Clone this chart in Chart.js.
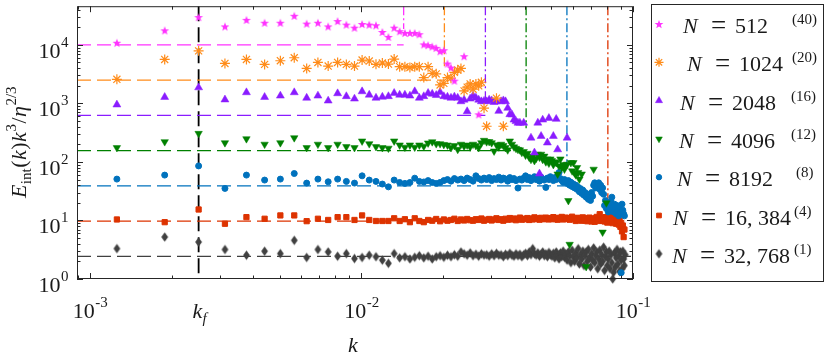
<!DOCTYPE html>
<html>
<head>
<meta charset="utf-8">
<script src="https://cdn.jsdelivr.net/npm/chart.js@4.4.1/dist/chart.umd.min.js"></script>
<style>
  html, body { margin: 0; padding: 0; background: #fff; }
</style>
</head>
<body>
<canvas id="spectrumChart" width="831" height="358"></canvas>
<script>
// mode spacing and forcing wavenumber
const dk = 2 * Math.PI / 10000;
const kf = 4 * dk;

// legend text
const seriesN = ["512", "1024", "2048", "4096", "8192", "16, 384", "32, 768"];
const ensembleSize = ["(40)", "(20)", "(16)", "(12)", "(8)", "(4)", "(1)"];

// compensated plateau levels, cutoff wavenumbers, where the cutoff lines stop
const plateau = [10000, 2500, 625, 156.25, 39.06, 9.77, 2.44];
const kCut = [0.0143, 0.0202, 0.0286, 0.0404, 0.0571, 0.0808];
const cutBottom = [18700, 3920, 1080, 377, 85.5, 14.8];

// E_int(k) k^3 / eta^(2/3), one value per mode n = 2, 3, 4, ...
const e512 = [
  10900, 17700, 29800, 20700, 26800, 23900, 23900, 31400, 23100, 23900,
  20700, 25500, 22200, 19700, 22700, 22200, 21600, 16600, 13700, 19700,
  17100, 16000, 16000, 16000, 15200, 10200, 9900, 9400, 8900, 7800,
  8100, 4800, 4100, 2450, null, null, 6400, null, null, null,
  null, 650
];
const e1024 = [
  2580, 5640, 7910, 4820, 5640, 4640, 5360, 6030, 3960, 5010,
  4350, 5010, 4640, 4350, 5500, 5300, 4650, 4900, 4700, 5720,
  4240, 4240, 4100, 4240, 4240, 2760, 4240, 3260, 3200, 2070,
  2200, 2760, 2700, 3400, 3720, 3960, 1640, 1900, 2150, 1750,
  2150, 2000, 2300, 830, 407, null, null, null, 1230, null,
  null, 407
];
const e2048 = [
  950, 1280, 1870, 1160, 1540, 1280, 1350, 1540, 1240, 1350,
  1110, 1480, 1320, 1200, 1600, 1400, 1240, 1290, 1320, 1500,
  1400, 1400, 1350, 1600, 1240, 1320, 1500, 1450, 1380, 1560,
  1320, 1290, 1240, 1300, 1240, 1080, 1150, 730, 1200, 1350,
  1250, 1150, 1080, 1100, 1080, 1150, 1120, 1050, 1080, 740,
  1080, 1120, 1080, 834, 650, 643, 525, 495, 465, 465,
  null, 465, null, null, null, 258, null, 144, null, 465,
  63, 276, 525, null, null, 213, 560, null, null, 276,
  null, 540, 163, null, null, null, null, null, null, 258
];
const e4096 = [
  175, 221, 306, 212, 248, 200, 212, 258, 175, 200,
  175, 200, 182, 175, 227, 204, 182, 175, 171, 227,
  194, 178, 194, 178, 194, 185, 210, 220, 204, 204,
  198, 194, 175, 190, 163, 200, 185, 194, 180, 200,
  190, 175, 212, 233, 220, 222, 212, 153, 195, 180,
  200, 190, 175, 160, 227, 200, 180, 170, 163, 160,
  145, 150, 130, 140, 120, 110, 125, 105, 115, 135,
  120, 135, 110, 125, 100, 112, 95, 112, 105, 90,
  100, 97, 62, 85, 112, 80, 90, 75, 85, 91,
  21.8, 3.9, 97, 70, 97, 65, 60, 80, 65.7, 50.7,
  null, 62, null, null, null, 1.62, null, null, null, null,
  null, null, 74.8, null, null, null, null, null, null, null,
  null, 6.3, null, null, null, 19.9
];
const e8192 = [
  50.9, 59.6, 85.5, 35.3, 59.6, 49, 50.9, 63.4, 43.5, 50.9,
  45.8, 50.9, 46.5, 43.5, 57.9, 49, 46.5, 41.9, 37.5, 49,
  44.6, 43, 44.6, 52.8, 46.5, 45.5, 48, 44.6, 43, 44.6,
  48, 50, 47, 52, 49, 51, 48, 53, 50, 47,
  57.9, 52, 49, 53, 50, 54, 48, 52, 50, 55,
  49, 53, 51, 47, 54, 50, 52, 48, 35.8, 51,
  49, 53, 57.9, 50, 54, 48, 52, 56, 50, 53,
  47, 55, 51, 49, 36.7, 53, 50, 56, 52, 48,
  54, 50, 57, 66, 52, 48, 45, 50, 46, 43,
  48, 40, 45, 38, 42, 36, 40, 34, 37, 31,
  35, 29, 33, 27, 30, 25, 28, 23, 26, 22,
  30, 26, 40, 44, 36, 42, 38, 44, 34, 40,
  30, 36, 28, 18, 22, 16, 20, 14, 17, 15,
  21, 25, 17, 14, 19, 16, 13, 18, 15, 12,
  17, 14, 1.28, 19, 15, 13, 12
];
const e16384 = [
  10.4, 9.35, 15.4, 8.79, 11.4, 10.7, 12.2, 12.2, 9.73, 10.7,
  10.2, 11.4, 11.4, 10.2, 12.2, 10.2, 9.8, 9.8, 9.8, 10.9,
  9.8, 10.5, 9.35, 10.9, 9.8, 9.35, 10.2, 9.9, 10.6, 9.7,
  10.4, 9.9, 10.2, 10.7, 9.8, 10.4, 10.0, 10.6, 10.1, 9.9,
  10.5, 10.2, 10.8, 9.9, 10.3, 10.6, 10.0, 10.4, 10.9, 10.2,
  10.5, 9.9, 10.7, 10.3, 11.0, 10.4, 10.8, 10.1, 10.6, 11.2,
  10.3, 10.7, 10.5, 11.0, 10.2, 10.8, 10.4, 11.3, 10.6, 10.9,
  10.3, 11.1, 10.7, 10.5, 11.2, 10.8, 10.4, 11.0, 10.6, 11.4,
  10.5, 10.9, 10.3, 11.1, 10.7, 11.5, 10.4, 10.9, 11.2, 10.6,
  11.0, 10.3, 10.8, 11.6, 10.5, 10.9, 9.8, 10.7, 11.1, 10.2,
  10.8, 9.9, 11.3, 10.4, 10.0, 10.9, 9.7, 10.6, 11.2, 10.1,
  9.6, 10.8, 10.3, 9.5, 10.9, 11.5, 10.2, 9.8, 12.8, 10.6,
  9.9, 11.0, 10.3, 9.6, 11.4, 10.5, 9.2, 10.8, 10.1, 11.8,
  9.5, 10.4, 9.0, 10.9, 9.8, 11.1, 8.8, 10.2, 9.4, 8.5,
  10.0, 7.8, 9.1, 6.5, 8.2, 5.2, 7.0
];
const e32768 = [
  3.31, 5.21, 4.28, 3.19, 2.55, 2.98, 2.72, 4.58, 2.33, 3.19,
  2.9, 2.45, 2.72, 2.24, 2.33, 2.55, 2.4, 2.1, 1.85, 2.72,
  2.3, 2.4, 2.2, 2.35, 2.5, 2.3, 2.45, 2.2, 2.4, 2.5,
  2.35, 2.55, 2.4, 2.6, 2.45, 2.9, 2.7, 2.55, 2.8, 2.5,
  2.65, 2.45, 2.7, 2.55, 2.6, 2.45, 2.7, 2.5, 2.75, 2.55,
  2.6, 2.4, 2.65, 2.5, 2.75, 2.55, 2.45, 2.7, 2.5, 2.65,
  2.4, 2.6, 2.75, 2.5, 2.9, 2.6, 3.3, 2.7, 2.55, 2.8,
  2.45, 2.65, 2.9, 2.5, 2.7, 2.4, 2.85, 2.6, 2.45, 2.75,
  2.3, 2.9, 2.55, 2.2, 2.8, 2.4, 3.0, 2.35, 2.7, 2.1,
  2.9, 2.5, 1.9, 3.1, 2.4, 2.0, 2.8, 2.3, 3.3, 1.8,
  2.6, 2.2, 3.0, 1.7, 2.5, 2.9, 2.0, 3.2, 2.3, 1.6,
  2.7, 2.1, 3.4, 1.9, 2.5, 2.9, 1.5, 2.2, 3.1, 1.8,
  2.6, 2.0, 3.5, 1.4, 2.4, 2.9, 1.7, 2.2, 3.0, 1.5,
  2.6, 1.9, 1.0, 1.3, 2.8, 1.6, 2.3, 3.2, 1.8, 2.5,
  1.35, 2.9, 2.1, 1.5, 3.0, 2.2, 1.7, 2.6
];

const spectra = [e512, e1024, e2048, e4096, e8192, e16384, e32768];
const colors = ["#ff33ff", "#ff8c1a", "#8a1cff", "#008000", "#0072bd", "#dd3300", "#404040"];

// axis ranges and labelled ticks
const kMin = 8.96e-4, kMax = 0.1;
const yMin = 1, yMax = 4.58e4;
const xTickValues = [1e-3, 1e-2, 1e-1];
const xTickExp = ["-3", "-2", "-1"];
const yTickValues = [1, 10, 100, 1000, 10000];
const yTickExp = ["0", "1", "2", "3", "4"];

const serif = '"Liberation Serif", "DejaVu Serif", serif';

// marker shapes chart.js does not have
function starMarker(color, R) {
  const s = Math.ceil(2 * R + 2);
  const c = document.createElement("canvas");
  c.width = s; c.height = s;
  const g = c.getContext("2d");
  g.fillStyle = color;
  g.beginPath();
  for (let i = 0; i < 10; i++) {
    const r = i % 2 ? R * 0.42 : R;
    const a = -Math.PI / 2 + i * Math.PI / 5;
    g.lineTo(s / 2 + r * Math.cos(a), s / 2 + 0.5 + r * Math.sin(a));
  }
  g.closePath();
  g.fill();
  return c;
}

function diamondMarker(color, hw, hh) {
  const c = document.createElement("canvas");
  c.width = Math.ceil(2 * hw + 2); c.height = Math.ceil(2 * hh + 2);
  const g = c.getContext("2d");
  const cx = c.width / 2, cy = c.height / 2;
  g.fillStyle = color;
  g.beginPath();
  g.moveTo(cx, cy - hh); g.lineTo(cx + hw, cy); g.lineTo(cx, cy + hh); g.lineTo(cx - hw, cy);
  g.closePath();
  g.fill();
  return c;
}

const markers = [
  { pointStyle: starMarker(colors[0], 4.6), radius: 5, rotation: 0, borderWidth: 0 },
  { pointStyle: "star", radius: 5, rotation: 0, borderWidth: 1.2 },
  { pointStyle: "triangle", radius: 4.6, rotation: 0, borderWidth: 0.5 },
  { pointStyle: "triangle", radius: 4.3, rotation: 180, borderWidth: 0.5 },
  { pointStyle: "circle", radius: 3, rotation: 0, borderWidth: 1 },
  { pointStyle: "rect", radius: 3.7, rotation: 0, borderWidth: 1 },
  { pointStyle: diamondMarker(colors[6], 3.4, 4.7), radius: 5, rotation: 0, borderWidth: 0 }
];

const datasets = [];

spectra.forEach((vals, i) => {
  datasets.push({
    data: vals.map((v, j) => ({ x: (j + 2) * dk, y: v })),
    backgroundColor: colors[i],
    borderColor: colors[i],
    pointStyle: markers[i].pointStyle,
    pointRadius: markers[i].radius,
    pointRotation: markers[i].rotation,
    pointBorderWidth: markers[i].borderWidth,
    showLine: false,
    clip: false,
    order: 0
  });
});

// dashed plateau lines and dash-dot cutoff lines
plateau.forEach((lvl, i) => {
  const kEnd = i < kCut.length ? kCut[i] : kMax;
  datasets.push({
    data: [{ x: kMin, y: lvl }, { x: kEnd, y: lvl }],
    borderColor: colors[i],
    borderWidth: 1.3,
    borderDash: [14, 6],
    pointRadius: 0,
    showLine: true,
    order: 1
  });
});
kCut.forEach((kc, i) => {
  datasets.push({
    data: [{ x: kc, y: yMax }, { x: kc, y: cutBottom[i] }],
    borderColor: colors[i],
    borderWidth: 1.3,
    borderDash: [9, 3, 2, 3],
    pointRadius: 0,
    showLine: true,
    order: 1
  });
});
// forcing scale
datasets.push({
  data: [{ x: kf, y: yMax }, { x: kf, y: yMin }],
  borderColor: "#000000",
  borderWidth: 1.8,
  borderDash: [15, 6],
  pointRadius: 0,
  showLine: true,
  order: 1
});

function put(ctx, s, x, y, size, italic) {
  ctx.font = (italic ? "italic " : "") + size + "px " + serif;
  ctx.fillText(s, x, y);
  return ctx.measureText(s).width;
}

function width(ctx, s, size, italic) {
  ctx.font = (italic ? "italic " : "") + size + "px " + serif;
  return ctx.measureText(s).width;
}

// "10" with a raised exponent
function powerLabel(ctx, exp, x, y, align) {
  const wb = width(ctx, "10", 22), we = width(ctx, exp, 15);
  const x0 = align === "center" ? x - (wb + we) / 2 : x - wb - we;
  put(ctx, "10", x0, y, 22);
  put(ctx, exp, x0 + wb + 0.5, y - 11, 15);
}

const axesPlugin = {
  id: "matlabAxes",
  afterDraw(chart) {
    const ctx = chart.ctx;
    const { left, right, top, bottom } = chart.chartArea;
    const xs = chart.scales.x, ys = chart.scales.y;
    ctx.save();
    ctx.strokeStyle = "#262626";
    ctx.fillStyle = "#262626";
    ctx.lineWidth = 1;
    ctx.setLineDash([]);

    // inward ticks on all four sides
    ctx.beginPath();
    for (let e = -4; e <= -1; e++) {
      for (let m = 1; m <= 9; m++) {
        const v = m * Math.pow(10, e);
        if (v < kMin || v > kMax * 1.0001) continue;
        const px = Math.round(xs.getPixelForValue(v)) + 0.5;
        const len = m === 1 ? 6 : 3.5;
        ctx.moveTo(px, bottom); ctx.lineTo(px, bottom - len);
        ctx.moveTo(px, top); ctx.lineTo(px, top + len);
      }
    }
    for (let e = 0; e <= 4; e++) {
      for (let m = 1; m <= 9; m++) {
        const v = m * Math.pow(10, e);
        if (v < yMin || v > yMax) continue;
        const py = Math.round(ys.getPixelForValue(v)) + 0.5;
        const len = m === 1 ? 6 : 3.5;
        ctx.moveTo(left, py); ctx.lineTo(left + len, py);
        ctx.moveTo(right, py); ctx.lineTo(right - len, py);
      }
    }
    ctx.stroke();
    ctx.strokeRect(left + 0.5, top + 0.5, right - left - 1, bottom - top - 1);

    // tick labels
    ctx.fillStyle = "#1a1a1a";
    ctx.textBaseline = "alphabetic";
    ctx.textAlign = "left";
    xTickValues.forEach((v, i) => {
      powerLabel(ctx, xTickExp[i], xs.getPixelForValue(v), 318, "center");
    });
    yTickValues.forEach((v, i) => {
      powerLabel(ctx, yTickExp[i], 68, ys.getPixelForValue(v) + 13, "right");
    });
    const kfx = xs.getPixelForValue(kf);
    const wk = put(ctx, "k", kfx - 6, 318, 22, true);
    put(ctx, "f", kfx - 6 + wk, 323, 15, true);

    // x title
    put(ctx, "k", 348, 352, 22, true);

    // y title, rotated
    const pieces = [
      ["E", 22, true, 0], ["int", 15, false, 5], ["(", 22, false, 0], ["k", 22, true, 0],
      [")", 22, false, 0], ["k", 22, true, 0], ["3", 15, false, -10], ["/", 22, false, 0],
      ["\u03b7", 22, true, 0], ["2/3", 15, false, -10]
    ];
    let total = 0;
    pieces.forEach(p => { total += width(ctx, p[0], p[1], p[2]) + 0.5; });
    ctx.save();
    ctx.translate(26, 142);
    ctx.rotate(-Math.PI / 2);
    let cx = -total / 2;
    pieces.forEach(p => { cx += put(ctx, p[0], cx, p[3], p[1], p[2]) + 0.5; });
    ctx.restore();

    // legend
    const bx = 651, by = 4, bw = 172, bh = 277;
    ctx.fillStyle = "#ffffff";
    ctx.fillRect(bx, by, bw, bh);
    ctx.strokeStyle = "#262626";
    ctx.strokeRect(bx + 0.5, by + 0.5, bw, bh);
    const nx = [683, 687, 680, 679, 677, 673, 672];
    const supX = [792, 792, 791, 791, 796, 794, 794];
    seriesN.forEach((txt, i) => {
      const base = 33 + i * 38.3;
      const my = base - 9;
      ctx.fillStyle = colors[i];
      ctx.strokeStyle = colors[i];
      ctx.lineWidth = markers[i].borderWidth || 1;
      Chart.helpers.drawPoint(ctx, {
        pointStyle: markers[i].pointStyle,
        radius: markers[i].radius * 0.9,
        rotation: markers[i].rotation,
        borderWidth: markers[i].borderWidth
      }, 659, my);
      ctx.fillStyle = "#1a1a1a";
      put(ctx, "N", nx[i], base, 22, true);
      put(ctx, "=", nx[i] + 28, base + 1, 27);
      put(ctx, txt, nx[i] + 52, base, 22);
      put(ctx, ensembleSize[i], supX[i], base - 9, 15);
    });
    ctx.restore();
  }
};

new Chart(document.getElementById("spectrumChart"), {
  type: "scatter",
  data: { datasets },
  options: {
    responsive: false,
    devicePixelRatio: 1,
    animation: false,
    layout: { padding: { left: 77, right: 198, top: 4, bottom: 79 } },
    plugins: { legend: { display: false }, tooltip: { enabled: false } },
    scales: {
      x: { type: "logarithmic", min: kMin, max: kMax, display: false },
      y: { type: "logarithmic", min: yMin, max: yMax, display: false }
    }
  },
  plugins: [axesPlugin]
});
</script>
</body>
</html>
